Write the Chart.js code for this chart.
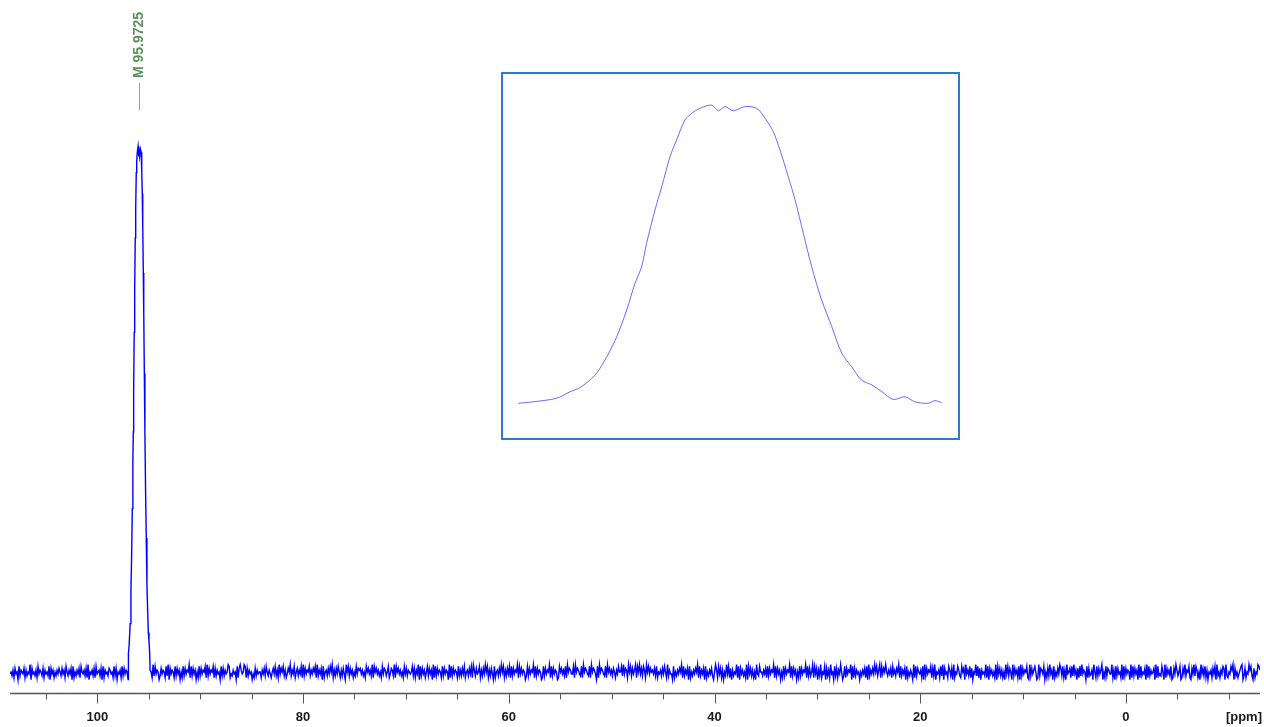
<!DOCTYPE html>
<html>
<head>
<meta charset="utf-8">
<script src="https://cdn.jsdelivr.net/npm/chart.js@4.4.0/dist/chart.umd.min.js"></script>
<style>
  body { margin: 0; background: #fff; }
  #wrap { position: relative; width: 1264px; height: 727px; }
  #main { position: absolute; left: 0; top: 0; }
  #insetBox { position: absolute; left: 501px; top: 72px; width: 459px; height: 368px;
              box-sizing: border-box; border: 2px solid #2a7ccc; background: #fff; }
  #inset { display: block; }
</style>
</head>
<body>
<div id="wrap">
  <canvas id="main" width="1264" height="727"></canvas>
  <div id="insetBox"><canvas id="inset" width="455" height="364"></canvas></div>
</div>
<script>
// ppm range of the spectrum (left edge is the high end)
var ppmHigh = 108.49;
var ppmLow = -13.03;

// x axis ticks: marks every 5 ppm, labels on multiples of 20
var tickValues = [105, 100, 95, 90, 85, 80, 75, 70, 65, 60, 55, 50, 45, 40, 35, 30, 25, 20, 15, 10, 5, 0, -5, -10];
var tickLabelValues = [100, 80, 60, 40, 20, 0];
var axisUnit = '[ppm]';

// the single resonance (ppm, relative intensity), also shown expanded in the inset
var peakPpm = [97.319, 97.22, 97.065, 96.976, 96.91, 96.81, 96.733, 96.667, 96.601, 96.546, 96.502, 96.469, 96.414, 96.369, 96.314, 96.27, 96.215, 96.171, 96.116, 96.038, 95.994, 95.95, 95.895, 95.818, 95.74, 95.685, 95.63, 95.586, 95.531, 95.486, 95.431, 95.376, 95.31, 95.243, 95.177, 95.111, 95.045, 94.978, 94.912, 94.835, 94.758, 94.692, 94.604, 94.559, 94.515];
var peakInt = [-0.1, 0.4, 1.6, 3.8, 5.2, 9.4, 15.6, 22.3, 31.3, 40.3, 45.9, 53.8, 64.9, 72.8, 82.9, 88.6, 95.3, 97.5, 99.2, 100.3, 98.4, 99.8, 98.4, 99.8, 99.2, 95.9, 91.3, 85.2, 76.2, 68.4, 57.1, 45.9, 34.7, 25.7, 16.8, 12.2, 7.7, 6.1, 3.8, 1.2, 2.1, 0.4, -0.1, 0.8, 0.1];

// peak pick label
var peakLabelPpm = [95.9725];
var peakLabels = ['M 95.9725'];

// baseline noise, one digit per sample from ppmHigh to ppmLow (0 = lowest, 9 = highest)
var noiseRows = [
  '45362745183654726354917453628465372645381746253647',
  '53746285364718253647285463729154637284563718264537',
  '64528371546283746519283746528374615283746529384651',
  '37465283917465283746152837465928374615283746582937',
  '46582736451837364598243645182796459827364514273645',
  '52647385364257483629475836247593648257364829374658',
  '36475829364718256374859263748526374195837462538476',
  '74635285746392857463528476358247639285746352847365',
  '45837264918374625837461928374652837465192837465283',
  '63748256374829637458263749582637418256374958263748',
  '28374659284746513837465928374651283746592837465128',
  '57463829576448295764382957643829576418295764382957',
  '46375264855839476295837469285947386295847564738254',
  '63748529364418253647592836471825364759283647182536',
  '47315962847261539482716354928174635291847362519438',
  '55364728374659283746152837465928374615283746592837',
  '35928471639254817362945183726495138274659182736451',
  '53647281936474958369284759536472846375928364718253',
  '64192837546281937465827391546283917452863719254863',
  '28571946382715493827164539281746352918473625194837',
  '51937462819374658219374685129376481527394618253749',
  '73826194572839461728394651827346195283746915283764',
  '49261837452918374651928374619283547192836457192834',
  '38519274638127496358127493658217493862519473826154',
  '62748193526487193254869173524689137254968317254986'
];
var noiseUnit = 0.36;   // intensity per noise digit

// build the main trace: noise outside the peak foot, the peak inside it
var noiseDigits = noiseRows.join('').split('');
var step = (ppmHigh - ppmLow) / (noiseDigits.length - 1);
var footPpm = peakPpm.filter(function(p, i){ return peakInt[i] > 3; });
var footHi = Math.max.apply(null, footPpm);
var footLo = Math.min.apply(null, footPpm);
var mainPoints = [];
noiseDigits.forEach(function(d, i){
    var p = ppmHigh - i * step;
    if (p > footHi || p < footLo) {
        mainPoints.push({x: p, y: (Number(d) - 4.5) * noiseUnit});
    }
});
peakPpm.forEach(function(p, i){
    if (peakInt[i] > 3) {
        mainPoints.push({x: p, y: peakInt[i]});
    }
});
mainPoints.sort(function(a, b){ return b.x - a.x; });

var insetPoints = peakPpm.map(function(p, i){ return {x: p, y: peakInt[i]}; });

var labelFont = 'bold 13px "Liberation Sans", Arial, sans-serif';

// tick marks, axis line, unit and peak label
var nmrDecor = {
    id: 'nmrDecor',
    afterDraw: function(chart){
        var ctx = chart.ctx;
        var xs = chart.scales.x;
        var area = chart.chartArea;
        var yAxis = area.bottom + 0.5;
        ctx.save();
        ctx.strokeStyle = '#555555';
        ctx.lineWidth = 1.5;
        ctx.beginPath();
        ctx.moveTo(area.left, yAxis);
        ctx.lineTo(area.right, yAxis);
        ctx.stroke();
        ctx.lineWidth = 1;
        tickValues.forEach(function(v){
            var px = Math.round(xs.getPixelForValue(v)) + 0.5;
            var len = tickLabelValues.indexOf(v) >= 0 ? 10 : 6;
            ctx.beginPath();
            ctx.moveTo(px, yAxis);
            ctx.lineTo(px, yAxis + len);
            ctx.stroke();
        });
        ctx.fillStyle = '#1a1a1a';
        ctx.font = labelFont;
        ctx.textAlign = 'right';
        ctx.textBaseline = 'top';
        ctx.fillText(axisUnit, area.right + 2, area.bottom + 18);

        peakLabelPpm.forEach(function(p, i){
            var px = Math.round(xs.getPixelForValue(p)) + 0.5;
            ctx.strokeStyle = '#7fb07f';
            ctx.beginPath();
            ctx.moveTo(px, 83);
            ctx.lineTo(px, 110);
            ctx.stroke();
            ctx.save();
            ctx.translate(px, 78);
            ctx.rotate(-Math.PI / 2);
            ctx.fillStyle = '#5a915a';
            ctx.font = 'bold 14px "Liberation Sans", Arial, sans-serif';
            ctx.textAlign = 'left';
            ctx.textBaseline = 'middle';
            ctx.fillText(peakLabels[i], 0, 0);
            ctx.restore();
        });
        ctx.restore();
    }
};

new Chart(document.getElementById('main'), {
    type: 'line',
    data: {
        datasets: [{
            data: mainPoints,
            borderColor: '#0000ff',
            borderWidth: 1.4,
            pointRadius: 0,
            tension: 0,
            fill: false
        }]
    },
    options: {
        responsive: false,
        animation: false,
        devicePixelRatio: 1,
        parsing: false,
        layout: { padding: { left: 10, right: 4, top: 0, bottom: 0 } },
        plugins: { legend: { display: false }, tooltip: { enabled: false } },
        scales: {
            x: {
                type: 'linear',
                reverse: true,
                min: ppmLow,
                max: ppmHigh,
                afterBuildTicks: function(s){
                    s.ticks = tickValues.map(function(v){ return {value: v}; });
                },
                afterFit: function(s){ s.height = 34; },
                grid: { display: false, drawTicks: false },
                border: { display: false },
                ticks: {
                    autoSkip: false,
                    maxRotation: 0,
                    padding: 17,
                    color: '#1a1a1a',
                    font: { family: '"Liberation Sans", Arial, sans-serif', size: 13, weight: 'bold' },
                    callback: function(v){
                        return tickLabelValues.indexOf(v) >= 0 ? String(v) : '';
                    }
                }
            },
            y: { display: false, min: -3.81, max: 128.19 }
        }
    },
    plugins: [nmrDecor]
});

new Chart(document.getElementById('inset'), {
    type: 'line',
    data: {
        datasets: [{
            data: insetPoints,
            borderColor: 'rgba(70,70,255,0.8)',
            borderWidth: 1,
            pointRadius: 0,
            tension: 0.3,
            fill: false
        }]
    },
    options: {
        responsive: false,
        animation: false,
        devicePixelRatio: 1,
        parsing: false,
        layout: { padding: 0 },
        plugins: { legend: { display: false }, tooltip: { enabled: false } },
        scales: {
            x: { type: 'linear', reverse: true, min: 94.407, max: 97.42, display: false },
            y: { display: false, min: -11.78, max: 110.77 }
        }
    }
});
</script>
</body>
</html>
